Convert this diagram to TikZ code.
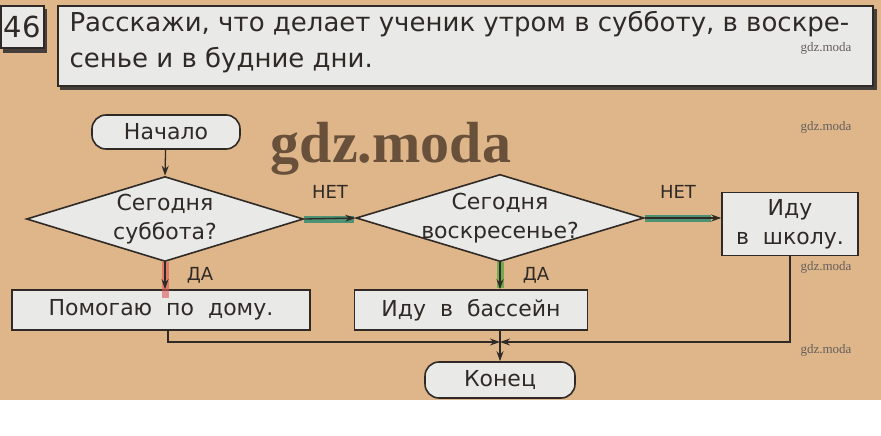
\documentclass[tikz,border=0pt]{standalone}
\usepackage{fontspec}
\setmainfont{DejaVu Sans}
\newfontfamily\markfont{Liberation Serif}
\usetikzlibrary{shapes.geometric, arrows.meta}

\definecolor{paper}{RGB}{223,182,138}
\definecolor{boxgray}{RGB}{233,233,231}
\definecolor{ink}{RGB}{48,42,38}
\definecolor{netgreen}{RGB}{52,140,112}
\definecolor{dagreen}{RGB}{95,170,70}
\definecolor{dared}{RGB}{222,86,86}
\definecolor{mark}{RGB}{105,80,58}

\tikzset{
  box/.style={draw=ink, fill=boxgray, line width=1.6pt, inner sep=0pt, align=center,
    text=ink, font=\fontsize{22}{29}\selectfont},
  pill/.style={box, rounded corners=14pt},
  choice/.style={box, diamond, aspect=3.3, inner sep=-4pt},
  flow/.style={-{Stealth[length=10pt,width=7pt]}, draw=ink, line width=1.3pt},
  glow/.style={line width=7pt, line cap=butt, opacity=0.85},
  answer/.style={font=\fontsize{18}{20}\selectfont, text=ink},
  taskline/.style={anchor=base west, text=ink, font=\fontsize{26}{35}\selectfont},
  wmark/.style={font=\markfont\fontsize{13}{13}\selectfont, text=ink!75, inner sep=0pt},
}

\begin{document}
\begin{tikzpicture}[x=1pt, y=-1pt]

\useasboundingbox (0,0) rectangle (881,436);
\fill[paper] (0,0) rectangle (881,400);

% task header
\fill[ink!90] (3,9) rectangle (47,53);
\node[box, minimum width=43pt, minimum height=42pt, font=\fontsize{29}{30}\selectfont,
  anchor=north west] (num) at (0,5) {46};
\fill[ink!90] (60,9) rectangle (877,90);
\node[box, minimum width=815pt, minimum height=80pt, anchor=north west] (task) at (57,5) {};
\node[taskline] (line1) at (66,32) {Расскажи, что делает ученик утром в субботу, в воскре-};
\node[taskline] (line2) at (66,67) {сенье и в будние дни.};

% watermarks
\node[font=\markfont\bfseries\fontsize{58}{58}\selectfont, text=mark, anchor=base]
  (big) at (391,162) {gdz.moda};
\node[wmark] (w1) at (826,48) {gdz.moda};
\node[wmark] (w2) at (826,127) {gdz.moda};
\node[wmark] (w3) at (826,267) {gdz.moda};
\node[wmark] (w4) at (826,350) {gdz.moda};

% flowchart
\node[pill, minimum width=148pt, minimum height=34pt] (start) at (166,132) {Начало};
\node[choice, minimum width=277pt, minimum height=85pt] (sat) at (165,219) {Сегодня\\суббота?};
\node[choice, minimum width=284pt, minimum height=85pt] (sun) at (500,218) {Сегодня\\воскресенье?};
\node[box, minimum width=136pt, minimum height=63pt] (school) at (790,224) {Иду\\в\ \ школу.};
\node[box, minimum width=298pt, minimum height=40pt] (home) at (161,310) {Помогаю\ \ по\ \ дому.};
\node[box, minimum width=233pt, minimum height=40pt] (pool) at (471,310) {Иду\ \ в\ \ бассейн};
\node[pill, minimum width=150pt, minimum height=36pt] (end) at (500,380) {Конец};

\coordinate (join) at (500,342);

% coloured marks under the arrows
\draw[glow, netgreen] (sat.east) -- ++(50,0);
\draw[glow, netgreen] (sun.east) -- ++(66,0);
\draw[glow, dared, opacity=0.6] (sat.south) -- ++(0,36);
\draw[glow, dagreen] (sun.south) -- ++(0,26);

\draw[flow] (start) -- (sat.north);
\draw[flow] (sat.east) -- (sun.west);
\draw[flow] (sun.east) -- (sun.east -| school.west);
\draw[flow] (sat.south) -- (sat.south |- home.north);
\draw[flow] (sun.south) -- (sun.south |- pool.north);

\draw[flow] (168,330) |- (join);
\draw[flow] (school.south) |- (join);
\draw[ink, line width=1.3pt] (join |- pool.south) -- (join);
\draw[flow] (join) -- (end.north);

\node[answer] (no1) at (330,192) {НЕТ};
\node[answer] (no2) at (678,192) {НЕТ};
\node[answer] (yes1) at (200,275) {ДА};
\node[answer] (yes2) at (536,275) {ДА};

\end{tikzpicture}
\end{document}
